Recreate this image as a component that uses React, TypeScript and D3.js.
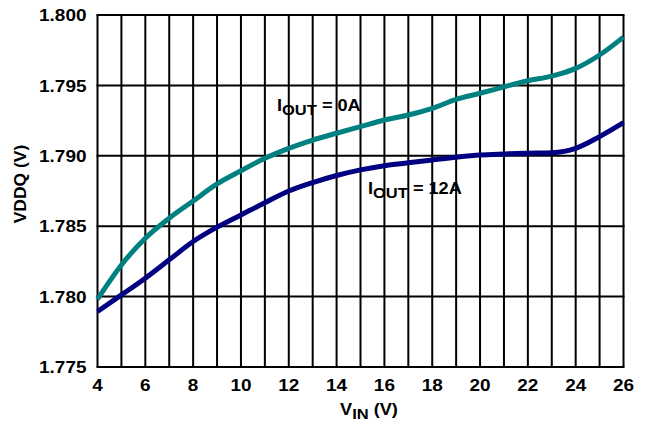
import React, { useEffect, useRef } from "react";
import * as d3 from "d3";

const vin = [4, 5, 6, 7, 8, 9, 10, 11, 12, 13, 14, 15, 16, 17, 18, 19, 20, 21, 22, 23, 24, 25, 26];
const vddq0A = [1.77982, 1.78225, 1.78415, 1.78557, 1.78679, 1.7880, 1.78894, 1.78982, 1.79053, 1.79112, 1.7916, 1.79207, 1.79254, 1.7929, 1.79337, 1.79401, 1.79444, 1.7949, 1.79533, 1.79566, 1.79621, 1.79716, 1.79843];
const vddq12A = [1.77894, 1.78012, 1.78131, 1.78261, 1.78391, 1.78493, 1.7858, 1.78667, 1.7875, 1.7881, 1.7886, 1.7890, 1.7893, 1.7895, 1.7897, 1.7899, 1.79006, 1.79013, 1.79018, 1.79022, 1.79053, 1.79136, 1.79235];
const xTicks = [4, 6, 8, 10, 12, 14, 16, 18, 20, 22, 24, 26];
const yTicks = [1.775, 1.78, 1.785, 1.79, 1.795, 1.8];

const W = 647, H = 424;
const M = { left: 97.5, top: 15, right: 647 - 623.5, bottom: 424 - 367 };
const FONT = "'Liberation Sans', Arial, Helvetica, sans-serif";
const SX = 1.1;

export default function App() {
  const ref = useRef<SVGSVGElement>(null);
  useEffect(() => {
    const svg = d3.select(ref.current);
    svg.selectAll("*").remove();
    const x = d3.scaleLinear().domain([4, 26]).range([M.left, W - M.right]);
    const y = d3.scaleLinear().domain([1.775, 1.8]).range([H - M.bottom, M.top]);

    const g = svg.append("g");
    g.selectAll("line.vg").data(d3.range(4, 27)).enter().append("line")
      .attr("x1", d => x(d)).attr("x2", d => x(d))
      .attr("y1", y(1.775)).attr("y2", y(1.8))
      .attr("stroke", "#000").attr("stroke-width", 2);
    g.selectAll("line.hg").data(yTicks).enter().append("line")
      .attr("x1", x(4) - 1).attr("x2", x(26) + 1)
      .attr("y1", d => y(d)).attr("y2", d => y(d))
      .attr("stroke", "#000").attr("stroke-width", 2);

    g.selectAll("g.yt").data(yTicks).enter().append("g")
      .attr("transform", d => `translate(86.5,${y(d)}) scale(1.15,1)`)
      .append("text").attr("dy", "0.37em")
      .attr("text-anchor", "end").attr("font-family", FONT).attr("font-weight", "bold")
      .attr("font-size", 16.5).text(d => d3.format(".3f")(d));
    g.selectAll("g.xt").data(xTicks).enter().append("g")
      .attr("transform", d => `translate(${x(d)},391) scale(1.15,1)`)
      .append("text")
      .attr("text-anchor", "middle").attr("font-family", FONT).attr("font-weight", "bold")
      .attr("font-size", 16.5).text(d => String(d));

    const line = d3.line<number>().x((_, i) => x(vin[i])).y(d => y(d)).curve(d3.curveMonotoneX);
    svg.append("path").attr("d", line(vddq0A)!).attr("fill", "none")
      .attr("stroke", "#008080").attr("stroke-width", 5);
    svg.append("path").attr("d", line(vddq12A)!).attr("fill", "none")
      .attr("stroke", "#000080").attr("stroke-width", 5);

    const subText = (px: number, py: number, main: string, sub: string, rest: string, anchor: string) => {
      const t = svg.append("g").attr("transform", `translate(${px},${py}) scale(${SX},1)`)
        .append("text").attr("text-anchor", anchor).style("white-space", "pre")
        .attr("font-family", FONT).attr("font-weight", "bold").attr("font-size", 16.5);
      t.append("tspan").text(main);
      t.append("tspan").attr("dy", 4.4).attr("font-size", 15).text(sub);
      t.append("tspan").attr("dy", -4.4).text(rest);
    };
    subText(277, 110.5, "I", "OUT", " = 0A", "start");
    subText(368, 193.5, "I", "OUT", " = 12A", "start");
    subText(369, 415, "V", "IN", " (V)", "middle");

    svg.append("g").attr("transform", "translate(26,184) rotate(-90) scale(1.06,1)")
      .append("text").style("white-space", "pre")
      .attr("text-anchor", "middle").attr("font-family", FONT).attr("font-weight", "bold")
      .attr("font-size", 16.5).text("VDDQ (V)");
  }, []);
  return (
    <svg ref={ref} width={W} height={H} style={{ position: "absolute", left: 0, top: 0, background: "#fff" }} />
  );
}
